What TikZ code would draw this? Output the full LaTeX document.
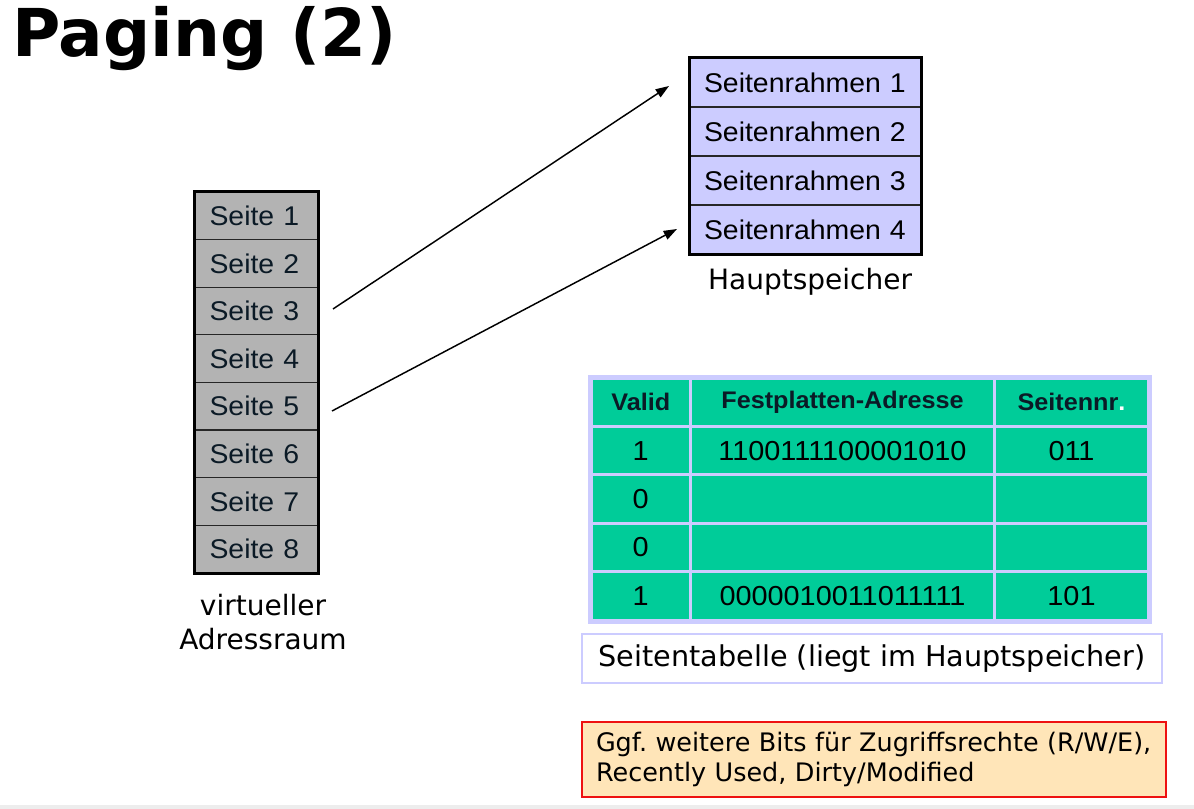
\documentclass[tikz,border=0pt]{standalone}
\usepackage{fontspec}
\setmainfont{DejaVu Sans}
\newfontfamily\arialf[FakeStretch=1.05]{Liberation Sans}
\newfontfamily\titlef{DejaVu Sans}
\usetikzlibrary{arrows.meta}
\definecolor{pagegray}{HTML}{B3B3B3}
\definecolor{framelav}{HTML}{CCCCFF}
\definecolor{tabgreen}{HTML}{00CC99}
\definecolor{darktxt}{HTML}{0B1A26}
\definecolor{notefill}{HTML}{FFE5B8}
\definecolor{notered}{HTML}{EE1111}
\definecolor{stripgray}{HTML}{EDEDED}
\tikzset{
  seitebox/.style={draw=black!85, line width=0.9pt, fill=pagegray, minimum height=35.72pt,
    text width=70.5pt, inner xsep=10.875pt, inner ysep=0pt, align=left,
    font=\arialf\fontsize{20.3}{24}\selectfont, text=darktxt},
  rahmenbox/.style={draw=black!85, line width=0.9pt, fill=framelav, minimum height=36.75pt,
    text width=152.25pt, inner xsep=10.5pt, inner ysep=0pt, align=left,
    font=\arialf\fontsize{20.3}{24}\selectfont, text=black},
  cell/.style={draw=framelav, line width=2.25pt, fill=tabgreen, minimum height=36.3pt,
    inner sep=0pt, font=\arialf\fontsize{20.6}{24}\selectfont, text=black},
  headcell/.style={cell, font=\arialf\bfseries\fontsize{18}{22}\selectfont, text=darktxt},
  labeltext/.style={font=\fontsize{21}{25.5}\selectfont, text=black, align=center, inner sep=0pt},
  conn/.style={line width=1.1pt, -{Triangle[length=10pt,width=7pt]}},
}
\begin{document}
\begin{tikzpicture}[x=0.75pt,y=-0.75pt]
\useasboundingbox (0,0) rectangle (1194,809);
\fill[white] (0,0) rectangle (1194,809);
\fill[stripgray] (0,805) rectangle (1194,809);

% title
\node[anchor=base west, inner sep=0pt, font=\titlef\bfseries\fontsize{49.5}{51}\selectfont] (title) at (12,57) {Paging (2)};

% virtual address space
\foreach \i/\y in {1/215.8,2/263.4,3/311.1,4/358.7,5/406.3,6/453.9,7/501.6,8/549.2}{
  \node[seitebox] (s\i) at (256.5,\y) {Seite \i};
}
\draw[line width=2.4pt] (s1.north west) rectangle (s8.south east);
\node[labeltext] (vlabel) at (263,622) {virtueller\\Adressraum};

% main memory
\foreach \i/\y in {1/82.5,2/131.5,3/180.5,4/229.5}{
  \node[rahmenbox] (r\i) at (805.5,\y) {Seitenrahmen \i};
}
\draw[line width=2.4pt] (r1.north west) rectangle (r4.south east);
\node[labeltext] (hlabel) at (810,282) {Hauptspeicher};

% arrows
\coordinate (a1s) at (333,309);
\coordinate (a1e) at (669,86);
\coordinate (a2s) at (332,411);
\coordinate (a2e) at (677,229);
\draw[conn] (a1s) -- (a1e);
\draw[conn] (a2s) -- (a2e);

% page table
\def\ca{640.75}\def\cb{842.5}\def\cc{1071.5}
\node[headcell, minimum width=74.6pt] (h1) at (\ca,402.2) {Valid};
\node[headcell, minimum width=228pt] (h2) at (\cb,402.2) {Festplatten-Adresse};
\node[headcell, minimum width=115.5pt] (h3) at (\cc,402.2) {\raisebox{-3pt}{Seitennr\textcolor{white}{.}}};
\foreach \r/\y/\va/\vb/\vc in {1/450.6/1/1100111100001010/011, 2/499/0//, 3/547.4/0//, 4/595.8/1/0000010011011111/101}{
  \node[cell, minimum width=74.6pt] (t\r a) at (\ca,\y) {\va};
  \node[cell, minimum width=228pt] (t\r b) at (\cb,\y) {\vb};
  \node[cell, minimum width=115.5pt] (t\r c) at (\cc,\y) {\vc};
}
\draw[framelav, line width=3pt] (589.5,376.5) rectangle (1150,621.5);

\node[draw=framelav, line width=1.5pt, fill=white, minimum width=435pt, minimum height=36.75pt,
  inner sep=0pt, font=\fontsize{21.5}{25}\selectfont] (caption) at (872,658.5) {Seitentabelle (liegt im Hauptspeicher)};

% note
\node[draw=notered, line width=1.1pt, fill=notefill, minimum width=438pt, minimum height=56.25pt,
  text width=417pt, inner xsep=10.5pt, inner ysep=0pt, align=left,
  font=\fontsize{19.1}{22.5}\selectfont] (note) at (874,759.5)
  {\frenchspacing\mbox{Ggf. weitere Bits für Zugriffsrechte (R/W/E),}\\\mbox{Recently Used, Dirty/Modified}};
\end{tikzpicture}
\end{document}
